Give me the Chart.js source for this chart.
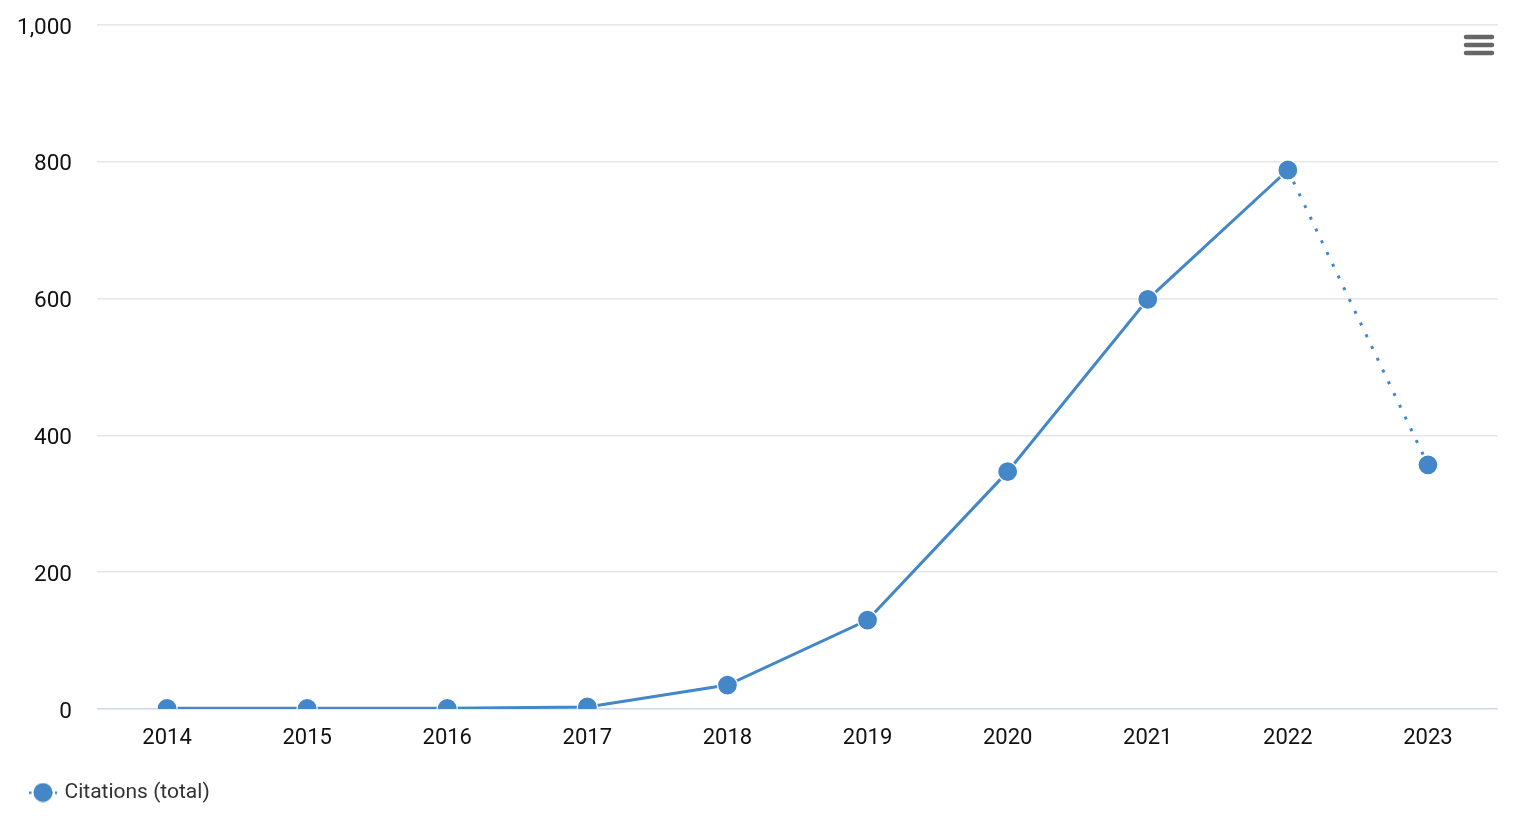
<!DOCTYPE html>
<html><head><meta charset="utf-8">
<script src="https://cdn.jsdelivr.net/npm/chart.js@4/dist/chart.umd.min.js"></script>
<style>html,body{margin:0;padding:0;background:#fff}#wrap{width:1531px;height:832px;position:relative}</style>
</head><body><div id="wrap"><canvas id="c" width="1531" height="832"></canvas></div>
<script>
const years = ['2014','2015','2016','2017','2018','2019','2020','2021','2022','2023'];
const citations = [1, 1, 1, 3, 35, 130, 347, 599, 788, 357];
const seriesName = 'Citations (total)';
const yTicks = [0, 200, 400, 600, 800, 1000];

const lineColor = '#4387c9';
const legendIcon = (() => {
  const cv = document.createElement('canvas');
  cv.width = 40; cv.height = 20;
  const g = cv.getContext('2d');
  g.fillStyle = lineColor;
  const cx = 26;
  [-13, -8, 8, 13].forEach(d => g.fillRect(cx + d - 1, 9, 2.5, 2.5));
  g.beginPath(); g.arc(cx, 10, 9.5, 0, Math.PI * 2); g.fill();
  return cv;
})();

const menuPlugin = {
  id: 'menu',
  afterDraw(chart) {
    const g = chart.ctx; g.save();
    g.strokeStyle = '#666'; g.lineWidth = 4.5; g.lineCap = 'round';
    [37, 45, 53].forEach(y => { g.beginPath(); g.moveTo(1466, y); g.lineTo(1492, y); g.stroke(); });
    g.restore();
  }
};

new Chart(document.getElementById('c'), {
  type: 'line',
  data: { labels: years, datasets: [{
    label: seriesName, data: citations,
    borderColor: lineColor, backgroundColor: lineColor, borderWidth: 3,
    pointRadius: 10, pointHoverRadius: 10, pointBorderColor: '#fff', pointBorderWidth: 1.2,
    pointBackgroundColor: lineColor, tension: 0,
    segment: { borderDash: c => c.p1DataIndex === citations.length - 1 ? [3, 10] : undefined }
  }]},
  options: {
    responsive: false, animation: false,
    layout: { padding: { top: 25, right: 33, left: 10, bottom: 19 } },
    plugins: {
      tooltip: { enabled: false },
      legend: { position: 'bottom', align: 'start',
        labels: { usePointStyle: true, pointStyle: legendIcon, pointStyleWidth: 34, color: '#333', font: { family: 'Roboto', size: 21 }, padding: 10, boxWidth: 28 } }
    },
    scales: {
      x: { offset: true, grid: { display: false }, border: { display: false },
        ticks: { color: '#111', font: { family: 'Roboto', size: 22 }, padding: 8, maxRotation: 0 },
        afterFit: ax => { ax.height = 63; } },
      y: { min: 0, max: 1000, afterBuildTicks: ax => { ax.ticks = yTicks.map(v => ({ value: v })); },
        border: { display: false },
        grid: { drawTicks: false, lineWidth: 1.5, color: c => c.tick && c.tick.value === 0 ? '#ccd6eb' : '#e6e6e6' },
        ticks: { color: '#111', font: { family: 'Roboto', size: 22.5 }, padding: 25, labelOffset: 3,
          callback: v => v.toLocaleString('en-US') },
        afterFit: ax => { ax.width = 87; ax.paddingTop = 0; ax.paddingBottom = 0; } }
    }
  },
  plugins: [menuPlugin]
});
</script></body></html>
